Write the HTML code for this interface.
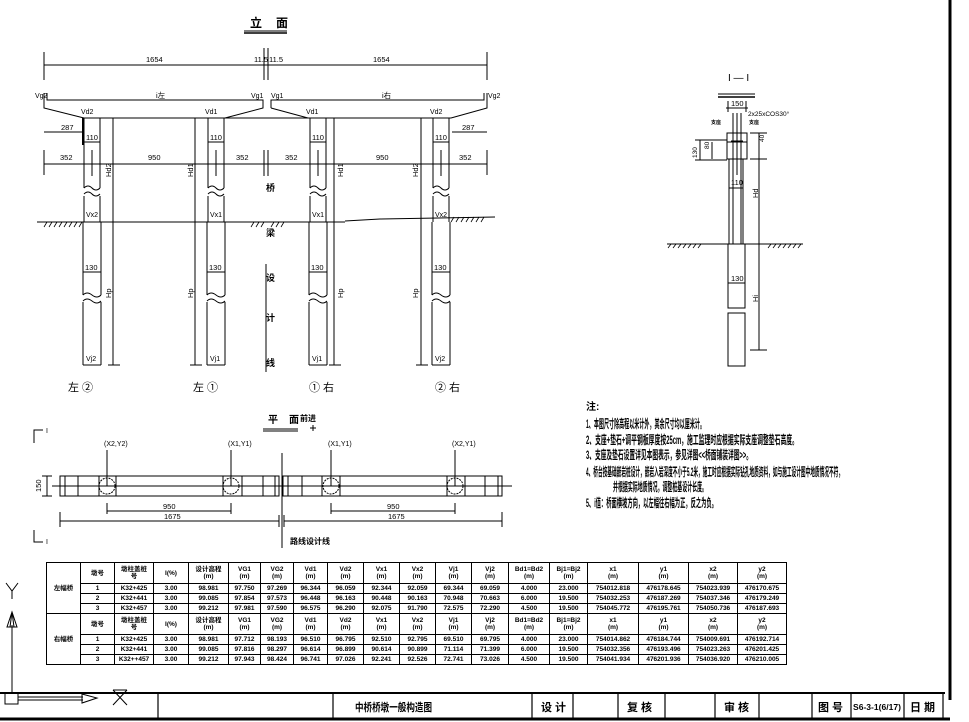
<!DOCTYPE html>
<html><head><meta charset="utf-8"><style>
html,body{margin:0;padding:0;background:#fff;width:969px;height:722px;overflow:hidden;position:relative}
svg{position:absolute;left:0;top:0}
svg text{font-family:"Liberation Sans","Noto Sans CJK SC",sans-serif;fill:#000}
.b{font-weight:bold}
table{position:absolute;left:46px;top:562px;border-collapse:collapse;table-layout:fixed;width:740px;font-family:"Liberation Sans","Noto Sans CJK SC",sans-serif;font-size:6.5px;font-weight:bold}
td{border:1px solid #000;padding:0;text-align:center;line-height:7px;overflow:hidden;white-space:nowrap}
tr.h td{height:20px}
tr.d td{height:9px}
</style></head><body>
<svg width="969" height="722" viewBox="0 0 969 722" xmlns="http://www.w3.org/2000/svg" stroke="#000" stroke-width="1" fill="none">
<!-- borders -->
<line x1="950" y1="0" x2="950" y2="700" stroke-width="3"/>
<line x1="0" y1="693" x2="945" y2="693" stroke-width="2"/>
<line x1="0" y1="719" x2="950" y2="719" stroke-width="3"/>
<g stroke-width="1.2">
<line x1="158" y1="693" x2="158" y2="719"/><line x1="333" y1="693" x2="333" y2="719"/>
<line x1="532" y1="693" x2="532" y2="719"/><line x1="573" y1="693" x2="573" y2="719"/>
<line x1="618" y1="693" x2="618" y2="719"/><line x1="665" y1="693" x2="665" y2="719"/>
<line x1="715" y1="693" x2="715" y2="719"/><line x1="759" y1="693" x2="759" y2="719"/>
<line x1="812" y1="693" x2="812" y2="719"/><line x1="851" y1="693" x2="851" y2="719"/>
<line x1="904" y1="693" x2="904" y2="719"/><line x1="943" y1="693" x2="943" y2="719"/>
</g>
<g stroke="none" class="b" font-size="11">
<text x="355" y="711" textLength="77" lengthAdjust="spacingAndGlyphs">中桥桥墩一般构造图</text>
<text x="541" y="711">设 计</text><text x="627" y="711">复 核</text><text x="724" y="711">审 核</text>
<text x="818" y="711">图 号</text><text x="910" y="711">日 期</text>
<text x="853" y="710" font-size="8" textLength="48" lengthAdjust="spacingAndGlyphs">S6-3-1(6/17)</text>
</g>
<!-- axis -->
<line x1="12" y1="625" x2="12" y2="693"/><path d="M12 612 L7 627 L17 627 Z M12 612 L10 627 M12 612 L14 627"/>
<path d="M6 583 L12 591 L18 583 M12 591 L12 599"/>
<rect x="5" y="693" width="13" height="11"/><line x1="18" y1="697" x2="83" y2="697"/><line x1="18" y1="700" x2="83" y2="700"/>
<path d="M82 694 L97 698 L82 703 Z"/>
<path d="M113 690 L127 705 M127 690 L113 705 M113 690 L127 690"/>
<!-- ELEVATION -->
<g stroke="none" class="b">
<text x="250" y="27" font-size="12">立</text><text x="276" y="27" font-size="12">面</text>
</g>
<line x1="244" y1="31" x2="287" y2="31"/><line x1="244" y1="33" x2="287" y2="33" stroke-width="1.5"/>
<line x1="44" y1="65" x2="487" y2="65"/>
<line x1="44" y1="52" x2="44" y2="80"/><line x1="487" y1="52" x2="487" y2="80"/>
<line x1="264" y1="48" x2="264" y2="80"/><line x1="268" y1="48" x2="268" y2="80"/>
<line x1="264" y1="150" x2="264" y2="176"/><line x1="268" y1="150" x2="268" y2="176"/>
<line x1="266" y1="264" x2="266" y2="372"/>
<g stroke="none" font-size="7.5">
<text x="146" y="62">1654</text><text x="254" y="62">11.5</text><text x="269" y="62">11.5</text><text x="373" y="62">1654</text>
<text x="35" y="98" font-size="7">Vg2</text><text x="251" y="98" font-size="7">Vg1</text><text x="271" y="98" font-size="7">Vg1</text><text x="488" y="98" font-size="7">Vg2</text>
<text x="156" y="98">i左</text><text x="382" y="98">i右</text>
</g>
<!-- deck and cap -->
<path d="M47 93 L47 100 L263 100 L263 108 L225 118 M271 108 L271 100 L484 100 L484 93 M44 93 L44 108 L84 118 M487 93 L487 108 L451 118 M271 108 L308 118 M84 118 L451 118"/>
<line x1="83" y1="118" x2="83" y2="145" stroke-width="2"/>
<line x1="44" y1="132" x2="83" y2="132"/><line x1="452" y1="132" x2="487" y2="132"/>
<line x1="44" y1="164" x2="487" y2="164"/>
<line x1="44" y1="150" x2="44" y2="175"/><line x1="487" y1="150" x2="487" y2="175"/>
<g stroke="none" font-size="7.5">
<text x="61" y="130">287</text><text x="462" y="130">287</text>
<text x="60" y="160">352</text><text x="148" y="160">950</text><text x="236" y="160">352</text>
<text x="285" y="160">352</text><text x="376" y="160">950</text><text x="459" y="160">352</text>
<text x="81" y="114" font-size="7">Vd2</text><text x="205" y="114" font-size="7">Vd1</text><text x="306" y="114" font-size="7">Vd1</text><text x="430" y="114" font-size="7">Vd2</text>
</g>
<!-- columns -->
<g id="col">
<path d="M84 118 L84 188 M100 118 L100 188 M84 196 L84 222 M100 196 L100 222 M84 142 L100 142 M92 150 L92 176"/>
<path d="M84 188 Q88 184 92 188 T100 188 M84 194 Q88 190 92 194 T100 194"/>
<path d="M83 222 L83 295 M101 222 L101 295 M83 302 L83 365 M101 302 L101 365 M83 365 L101 365 M83 272 L101 272"/>
<path d="M83 295 Q87 291 92 295 T101 295 M83 301 Q87 297 92 301 T101 301"/>
</g>
<use href="#col" x="124"/><use href="#col" x="226"/><use href="#col" x="349"/>
<g stroke="none" font-size="7.5">
<text x="86" y="140">110</text><text x="210" y="140">110</text><text x="312" y="140">110</text><text x="435" y="140">110</text>
<text x="85" y="270">130</text><text x="209" y="270">130</text><text x="311" y="270">130</text><text x="434" y="270">130</text>
<text x="86" y="217" font-size="7">Vx2</text><text x="210" y="217" font-size="7">Vx1</text><text x="312" y="217" font-size="7">Vx1</text><text x="435" y="217" font-size="7">Vx2</text>
<text x="86" y="361" font-size="7">Vj2</text><text x="210" y="361" font-size="7">Vj1</text><text x="312" y="361" font-size="7">Vj1</text><text x="435" y="361" font-size="7">Vj2</text>
</g>
<!-- Hd lines -->
<path d="M113 118 L113 365 M108 365 L120 365 M195 118 L195 365 M190 365 L202 365 M334 118 L334 365 M329 365 L341 365 M421 118 L421 365 M416 365 L428 365"/>
<g stroke="none" font-size="7.5">
<text transform="translate(111,177) rotate(-90)">Hd2</text><text transform="translate(193,177) rotate(-90)">Hd1</text>
<text transform="translate(343,177) rotate(-90)">Hd1</text><text transform="translate(418,177) rotate(-90)">Hd2</text>
<text transform="translate(111,298) rotate(-90)">Hp</text><text transform="translate(193,298) rotate(-90)">Hp</text>
<text transform="translate(343,298) rotate(-90)">Hp</text><text transform="translate(418,298) rotate(-90)">Hp</text>
</g>
<!-- ground -->
<path d="M37 222 L345 222 M345 221 L380 219 L495 217"/>
<path d="M44 227 l3 -5 M49 227 l3 -5 M54 227 l3 -5 M59 227 l3 -5 M64 227 l3 -5 M69 227 l3 -5 M74 227 l3 -5 M79 227 l3 -5 M251 227 l3 -5 M256 227 l3 -5 M261 227 l3 -5 M271 227 l3 -5 M276 227 l3 -5 M281 227 l3 -5 M451 222 l3 -5 M456 222 l3 -5 M461 222 l3 -5 M466 222 l3 -5 M471 222 l3 -5 M476 222 l3 -5 M481 222 l3 -5" stroke-width="0.8"/>
<g stroke="none" class="b" font-size="9">
<text x="266" y="191">桥</text><text x="266" y="236">梁</text><text x="266" y="281">设</text><text x="266" y="321">计</text><text x="266" y="366">线</text>
</g>
<g stroke="none" font-size="11">
<text x="68" y="391">左 ②</text><text x="193" y="391">左 ①</text><text x="309" y="391">① 右</text><text x="435" y="391">② 右</text>
</g>
<!-- PLAN -->
<g stroke="none" class="b"><text x="268" y="423" font-size="10">平</text><text x="289" y="423" font-size="10">面</text><text x="300" y="421" font-size="8">前进</text></g>
<line x1="263" y1="429" x2="298" y2="429"/><line x1="263" y1="431" x2="298" y2="431"/>
<path d="M310 428 L316 428 M313 425 L313 431"/>
<path d="M34 443 L34 430 L43 430 M34 530 L34 542 L43 542"/>
<g stroke="none" font-size="7"><text x="46" y="433">I</text><text x="46" y="544">I</text>
<text x="104" y="446">(X2,Y2)</text><text x="228" y="446">(X1,Y1)</text><text x="328" y="446">(X1,Y1)</text><text x="452" y="446">(X2,Y1)</text></g>
<path d="M107 450 L107 486 M231 450 L231 486 M331 450 L331 486 M455 450 L455 486"/>
<rect x="60" y="476" width="219" height="20"/><rect x="283" y="476" width="219" height="20"/>
<line x1="52" y1="486" x2="512" y2="486"/>
<path d="M65 476 V496 M78 476 V496 M99 476 V496 M116 476 V496 M223 476 V496 M242 476 V496 M263 476 V496 M275 476 V496 M288 476 V496 M302 476 V496 M322 476 V496 M340 476 V496 M447 476 V496 M465 476 V496 M485 476 V496 M498 476 V496"/>
<circle cx="107" cy="486" r="8" stroke-dasharray="2 1"/><circle cx="231" cy="486" r="8" stroke-dasharray="2 1"/>
<circle cx="331" cy="486" r="8" stroke-dasharray="2 1"/><circle cx="455" cy="486" r="8" stroke-dasharray="2 1"/>
<line x1="282" y1="453" x2="282" y2="548"/><line x1="279" y1="515" x2="279" y2="527"/><line x1="284" y1="515" x2="284" y2="527"/>
<path d="M47 476 L47 496 M42 476 L52 476 M42 496 L52 496"/>
<path d="M107 511 L231 511 M107 503 V514 M231 503 V514 M60 521 L279 521 M60 512 V527 M331 511 L455 511 M331 503 V514 M455 503 V514 M284 521 L502 521 M502 512 V527"/>
<g stroke="none" font-size="7.5"><text transform="translate(41,492) rotate(-90)">150</text>
<text x="163" y="509">950</text><text x="164" y="519">1675</text><text x="387" y="509">950</text><text x="388" y="519">1675</text>
<text x="290" y="544" class="b" font-size="8">路线设计线</text></g>
<!-- SECTION I-I -->
<g stroke="none" font-size="10"><text x="728" y="81">I — I</text></g>
<line x1="718" y1="94" x2="755" y2="94"/><line x1="718" y1="97" x2="755" y2="97" stroke-width="1.5"/>
<path d="M728 101 V112 M746 101 V112 M726 108 L748 108"/>
<g stroke="none" font-size="7.5"><text x="731" y="106">150</text><text x="748" y="116" font-size="6.5">2x25xCOS30°</text>
<text x="711" y="124" font-size="5" class="b">支座</text><text x="749" y="124" font-size="5" class="b">支座</text>
<text x="731" y="185">110</text><text x="731" y="281">130</text>
<text transform="translate(764,142) rotate(-90)" font-size="6.5">40</text>
<text transform="translate(697,158) rotate(-90)" font-size="6.5">130</text><text transform="translate(709,149) rotate(-90)" font-size="6.5">80</text>
<text transform="translate(758,198) rotate(-90)">Hd</text><text transform="translate(758,302) rotate(-90)">Hi</text></g>
<rect x="727" y="133" width="20" height="26"/>
<path d="M733 113 V244 M737 113 V175 M741 113 V244 M727 142 L747 142 M731 141 h12"/>
<rect x="729" y="159" width="14" height="85"/><line x1="729" y1="188" x2="743" y2="188"/>
<path d="M667 244 L803 244"/>
<path d="M668 248 l3 -4 M673 248 l3 -4 M678 248 l3 -4 M683 248 l3 -4 M688 248 l3 -4 M693 248 l3 -4 M698 248 l3 -4 M768 248 l3 -4 M773 248 l3 -4 M778 248 l3 -4 M783 248 l3 -4 M788 248 l3 -4 M793 248 l3 -4 M798 248 l3 -4" stroke-width="0.8"/>
<rect x="728" y="244" width="17" height="64"/><line x1="728" y1="283" x2="745" y2="283"/>
<rect x="728" y="313" width="17" height="53"/>
<path d="M759 133 V350 M750 133 H767 M750 159 H767 M750 244 H767 M750 350 H767 M700 140 V160 M695 140 H727 M695 160 H727 M712 142 V159"/>
<!-- NOTES -->
<g stroke="none" class="b" font-size="12">
<text x="586" y="410" font-size="10">注:</text>
<text x="586" y="428" textLength="119" lengthAdjust="spacingAndGlyphs">1、本图尺寸除高程以米计外，其余尺寸均以厘米计。</text>
<text x="586" y="444" textLength="212" lengthAdjust="spacingAndGlyphs">2、支座+垫石+调平钢板厚度按25cm，施工监理时应根据实际支座调整垫石高度。</text>
<text x="586" y="459" textLength="166" lengthAdjust="spacingAndGlyphs">3、支座及垫石设置详见本图表示，参见详图&lt;&lt;桥面铺装详图&gt;&gt;。</text>
<text x="586" y="476" textLength="257" lengthAdjust="spacingAndGlyphs">4、桥台按基础嵌岩桩设计，嵌岩入岩深度不小于5.2米，施工时应根据实际钻孔地质资料，如与施工设计图中地质情况不符，</text>
<text x="613" y="491" textLength="94" lengthAdjust="spacingAndGlyphs">并根据实际地质情况，调整桩基设计长度。</text>
<text x="586" y="507" textLength="131" lengthAdjust="spacingAndGlyphs">5、i值：桥面横坡方向，以左幅往右幅为正，反之为负。</text>
</g>
</svg>
<table>
<colgroup><col style="width:34px"><col style="width:34px"><col style="width:39px"><col style="width:35px"><col style="width:40px"><col style="width:32px"><col style="width:33px"><col style="width:34px"><col style="width:36px"><col style="width:36px"><col style="width:36px"><col style="width:36px"><col style="width:37px"><col style="width:41px"><col style="width:38px"><col style="width:51px"><col style="width:50px"><col style="width:49px"><col style="width:49px"></colgroup>
<tr class="h"><td rowspan="4">左幅桥</td><td>墩号</td><td>墩柱盖桩<br>号</td><td>I(%)</td><td>设计高程<br>(m)</td><td>VG1<br>(m)</td><td>VG2<br>(m)</td><td>Vd1<br>(m)</td><td>Vd2<br>(m)</td><td>Vx1<br>(m)</td><td>Vx2<br>(m)</td><td>Vj1<br>(m)</td><td>Vj2<br>(m)</td><td>Bd1=Bd2<br>(m)</td><td>Bj1=Bj2<br>(m)</td><td>x1<br>(m)</td><td>y1<br>(m)</td><td>x2<br>(m)</td><td>y2<br>(m)</td></tr>
<tr class="d"><td>1</td><td>K32+425</td><td>3.00</td><td>98.981</td><td>97.750</td><td>97.269</td><td>96.344</td><td>96.059</td><td>92.344</td><td>92.059</td><td>69.344</td><td>69.059</td><td>4.000</td><td>23.000</td><td>754012.818</td><td>476178.645</td><td>754023.939</td><td>476170.675</td></tr>
<tr class="d"><td>2</td><td>K32+441</td><td>3.00</td><td>99.085</td><td>97.854</td><td>97.573</td><td>96.448</td><td>96.163</td><td>90.448</td><td>90.163</td><td>70.948</td><td>70.663</td><td>6.000</td><td>19.500</td><td>754032.253</td><td>476187.269</td><td>754037.346</td><td>476179.249</td></tr>
<tr class="d"><td>3</td><td>K32+457</td><td>3.00</td><td>99.212</td><td>97.981</td><td>97.590</td><td>96.575</td><td>96.290</td><td>92.075</td><td>91.790</td><td>72.575</td><td>72.290</td><td>4.500</td><td>19.500</td><td>754045.772</td><td>476195.761</td><td>754050.736</td><td>476187.693</td></tr>
<tr class="h"><td rowspan="4">右幅桥</td><td>墩号</td><td>墩柱盖桩<br>号</td><td>I(%)</td><td>设计高程<br>(m)</td><td>VG1<br>(m)</td><td>VG2<br>(m)</td><td>Vd1<br>(m)</td><td>Vd2<br>(m)</td><td>Vx1<br>(m)</td><td>Vx2<br>(m)</td><td>Vj1<br>(m)</td><td>Vj2<br>(m)</td><td>Bd1=Bd2<br>(m)</td><td>Bj1=Bj2<br>(m)</td><td>x1<br>(m)</td><td>y1<br>(m)</td><td>x2<br>(m)</td><td>y2<br>(m)</td></tr>
<tr class="d"><td>1</td><td>K32+425</td><td>3.00</td><td>98.981</td><td>97.712</td><td>98.193</td><td>96.510</td><td>96.795</td><td>92.510</td><td>92.795</td><td>69.510</td><td>69.795</td><td>4.000</td><td>23.000</td><td>754014.862</td><td>476184.744</td><td>754009.691</td><td>476192.714</td></tr>
<tr class="d"><td>2</td><td>K32+441</td><td>3.00</td><td>99.085</td><td>97.816</td><td>98.297</td><td>96.614</td><td>96.899</td><td>90.614</td><td>90.899</td><td>71.114</td><td>71.399</td><td>6.000</td><td>19.500</td><td>754032.356</td><td>476193.496</td><td>754023.263</td><td>476201.425</td></tr>
<tr class="d"><td>3</td><td>K32++457</td><td>3.00</td><td>99.212</td><td>97.943</td><td>98.424</td><td>96.741</td><td>97.026</td><td>92.241</td><td>92.526</td><td>72.741</td><td>73.026</td><td>4.500</td><td>19.500</td><td>754041.934</td><td>476201.936</td><td>754036.920</td><td>476210.005</td></tr>
</table>
</body></html>
